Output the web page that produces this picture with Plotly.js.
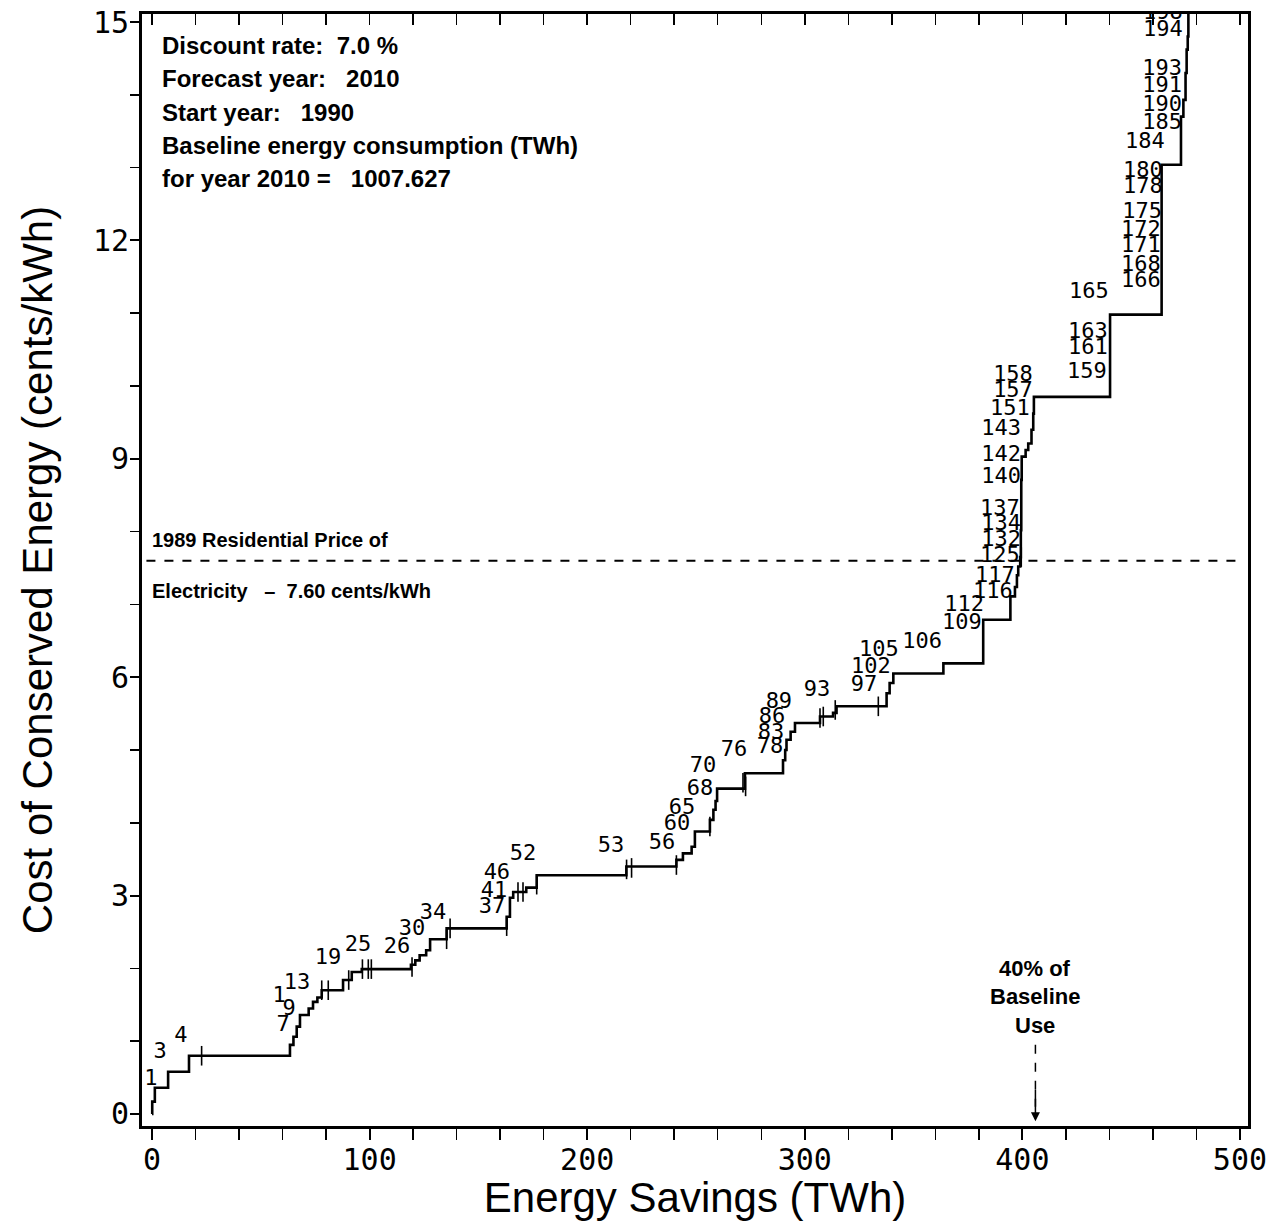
<!DOCTYPE html>
<html>
<head>
<meta charset="utf-8">
<script src="https://cdn.plot.ly/plotly-3.0.1.min.js"></script>
<style>html,body{margin:0;padding:0;background:#fff;}#chart{width:1281px;height:1221px;}</style>
</head>
<body>
<div id="chart"></div>
<script>
// Conservation supply curve: cumulative savings (TWh) at the start of each step, and its cost (cents/kWh)
const savingsStart = [0, 0.1, 1.3, 7.4, 17, 63.4, 65, 66.5, 68, 72, 74, 76, 78, 87.8, 91.8, 96.4, 119, 121, 123, 126, 127.8,
  135.4, 163, 164.5, 166, 172, 176.8, 218, 241, 244, 248, 249.5, 256.4, 258, 259, 259.7, 272.5, 290, 291, 291.6, 293.5,
  295.5, 307, 313, 314.6, 337.6, 339, 340.7, 363.7, 382, 394.5, 396.6, 397.5, 398.1, 399, 399.3, 399.5, 399.7, 401.5,
  402.7, 404.2, 405, 405.3, 440.3, 464, 472.9, 474, 475, 475.5, 476, 476.3];
const cost = [0.00, 0.17, 0.36, 0.58, 0.80, 0.95, 1.06, 1.20, 1.36, 1.45, 1.54, 1.60, 1.70, 1.84, 1.95, 1.99, 2.05, 2.11, 2.18, 2.25, 2.40,
  2.55, 2.71, 2.97, 3.05, 3.11, 3.28, 3.40, 3.49, 3.58, 3.67, 3.88, 4.04, 4.18, 4.30, 4.47, 4.68, 4.86, 5.00, 5.14, 5.25,
  5.37, 5.46, 5.51, 5.60, 5.78, 5.92, 6.05, 6.19, 6.79, 7.11, 7.24, 7.40, 7.52, 7.65, 8.02, 8.71, 9.03, 9.12,
  9.21, 9.40, 9.62, 9.85, 10.98, 13.04, 13.70, 13.93, 14.30, 14.62, 14.80, 15.30];

// Short boundary marks between measures with nearly equal cost
const markSavings = [22.8, 78, 81, 90.4, 96.7, 99.4, 100.8, 119.5, 135.4, 137, 163, 168.2, 170.5, 176.8, 218.1, 220.4, 241,
  256.4, 271.6, 272.8, 307, 308.5, 314, 333.8, 399.5];
const markCost = [0.80, 1.70, 1.70, 1.84, 1.99, 1.99, 1.99, 2.02, 2.40, 2.55, 2.58, 3.05, 3.05, 3.15, 3.36, 3.38, 3.42,
  3.95, 4.55, 4.50, 5.44, 5.46, 5.55, 5.60, 7.65];

// Measure number labels
const measureIds = ["1","3","4","7","9","1","13","19","25","26","30","34","37","41","46","52","53","56","60","65","68","70",
  "76","78","83","86","89","93","97","102","105","106","109","112","116","117","125","132","134","137","140","142","143",
  "151","157","158","159","161","163","165","166","168","171","172","175","178","180","184","185","190","191","193","194","198"];
const labelSavings = [-0.5, 3.7, 13.3, 60.2, 63.0, 58.4, 66.6, 80.9, 94.7, 112.6, 119.5, 129.1, 156.3, 157.2, 158.5, 170.5,
  210.9, 234.4, 241.3, 243.6, 251.8, 253.2, 267.5, 284.0, 284.5, 284.9, 288.1, 305.6, 327.2, 330.4, 334.1, 353.9, 372.2,
  373.2, 386.5, 387.4, 389.7, 390.2, 390.2, 389.7, 390.2, 390.2, 390.2, 394.3, 395.7, 395.7, 429.7, 430.1, 430.1, 430.6,
  454.5, 454.5, 454.5, 454.5, 455.0, 455.4, 455.4, 456.3, 464.2, 464.2, 464.2, 464.2, 464.6, 464.6];
const labelCost = [0.47, 0.85, 1.07, 1.21, 1.43, 1.61, 1.79, 2.14, 2.31, 2.29, 2.54, 2.76, 2.84, 3.06, 3.30, 3.57, 3.67, 3.72,
  3.98, 4.20, 4.46, 4.77, 4.99, 5.04, 5.23, 5.44, 5.65, 5.82, 5.89, 6.13, 6.36, 6.48, 6.74, 6.98, 7.17, 7.38, 7.66, 7.88,
  8.10, 8.31, 8.75, 9.05, 9.40, 9.68, 9.92, 10.14, 10.19, 10.51, 10.73, 11.29, 11.43, 11.66, 11.92, 12.14, 12.38, 12.72,
  12.94, 13.34, 13.60, 13.85, 14.11, 14.35, 14.89, 15.12];

const infoLines = ["Discount rate:  7.0 %", "Forecast year:   2010", "Start year:   1990",
  "Baseline energy consumption (TWh)", "for year 2010 =   1007.627"];
const residentialPrice = 7.60;
const priceLines = ["1989 Residential Price of", "Electricity   \u2013  7.60 cents/kWh"];
const fortyPctSavings = 406;
const fortyPctLines = ["40% of", "Baseline", "Use"];

const xTicks = [0, 100, 200, 300, 400, 500];
const yTicks = [0, 3, 6, 9, 12, 15];

const traces = [
  {
    x: savingsStart, y: cost, type: "scatter", mode: "lines",
    line: {shape: "hv", color: "#000", width: 2.6}, hoverinfo: "skip", showlegend: false
  },
  {
    x: markSavings, y: markCost, type: "scatter", mode: "markers",
    marker: {symbol: "line-ns", size: 14, color: "#000", line: {color: "#000", width: 1.6}},
    hoverinfo: "skip", showlegend: false
  },
  {
    x: labelSavings, y: labelCost, type: "scatter", mode: "text", text: measureIds,
    textposition: "middle center", cliponaxis: true,
    textfont: {family: "DejaVu Sans Mono", size: 22, color: "#000"}, hoverinfo: "skip", showlegend: false
  },
  { x: [], y: [], xaxis: "x2", type: "scatter", mode: "markers", showlegend: false, hoverinfo: "skip" }
];

const infoY = [0.972, 0.9424, 0.9118, 0.882, 0.8524];
const annotations = [];
infoLines.forEach((t, i) => annotations.push({
  xref: "paper", yref: "paper", x: 0.0163, y: infoY[i], xanchor: "left", yanchor: "middle",
  text: t, showarrow: false, font: {family: "Liberation Sans", size: 24, color: "#000", weight: "bold"}
}));
const priceY = [0.5266, 0.4815];
priceLines.forEach((t, i) => annotations.push({
  xref: "paper", yref: "paper", x: 0.0072, y: priceY[i], xanchor: "left", yanchor: "middle",
  text: t, showarrow: false, font: {family: "Liberation Sans", size: 20, color: "#000", weight: "bold"}
}));
const fortyY = [2.0, 1.61, 1.21];
fortyPctLines.forEach((t, i) => annotations.push({
  xref: "x", yref: "y", x: fortyPctSavings, y: fortyY[i], xanchor: "center", yanchor: "middle",
  text: t, showarrow: false, font: {family: "Liberation Sans", size: 22, color: "#000", weight: "bold"}
}));
annotations.push({
  xref: "x", yref: "y", x: fortyPctSavings, y: -0.1, axref: "x", ayref: "y",
  ax: fortyPctSavings, ay: 0.35, text: "", showarrow: true, arrowhead: 2, arrowsize: 1.2,
  arrowwidth: 1.5, arrowcolor: "#000"
});

const layout = {
  width: 1281, height: 1221,
  margin: {l: 142, r: 33, t: 14, b: 95},
  paper_bgcolor: "#fff", plot_bgcolor: "#fff",
  showlegend: false,
  xaxis: {
    range: [-4.6, 503.7], tickvals: xTicks, ticks: "outside", ticklen: 11, tickwidth: 2, tickcolor: "#000",
    minor: {dtick: 20, tick0: 0, ticks: "outside", ticklen: 11, tickwidth: 1.5, tickcolor: "#000", showgrid: false},
    showline: true, linewidth: 3, linecolor: "#000", mirror: true, showgrid: false, zeroline: false,
    tickfont: {family: "DejaVu Sans Mono", size: 30, color: "#000"}, ticklabelstandoff: -6,
    title: {text: "Energy Savings (TWh)", font: {family: "Liberation Sans", size: 42, color: "#000"}, standoff: 2}
  },
  xaxis2: {
    overlaying: "x", side: "top", anchor: "y", range: [-4.6, 503.7], dtick: 20, tick0: 0,
    ticks: "inside", ticklen: 11, tickwidth: 1.5, tickcolor: "#000",
    showticklabels: false, showline: false, showgrid: false, zeroline: false
  },
  yaxis: {
    range: [-0.165, 15.11], tickvals: yTicks, ticks: "outside", ticklen: 9, tickwidth: 2, tickcolor: "#000",
    minor: {dtick: 1, tick0: 0, ticks: "outside", ticklen: 9, tickwidth: 1.5, tickcolor: "#000", showgrid: false},
    showline: true, linewidth: 3, linecolor: "#000", mirror: true, showgrid: false, zeroline: false,
    tickfont: {family: "DejaVu Sans Mono", size: 30, color: "#000"}, ticklabelstandoff: -5,
    title: {text: "Cost of Conserved Energy (cents/kWh)", font: {family: "Liberation Sans", size: 42, color: "#000"}, standoff: 28}
  },
  shapes: [
    {type: "line", xref: "paper", yref: "y", x0: 0.004, x1: 0.99, y0: residentialPrice, y1: residentialPrice,
     line: {color: "#000", width: 2, dash: "dash"}},
    {type: "line", xref: "x", yref: "y", x0: fortyPctSavings, x1: fortyPctSavings, y0: 0.95, y1: 0.1,
     line: {color: "#000", width: 1.5, dash: "dash"}}
  ],
  annotations: annotations
};

Plotly.newPlot("chart", traces, layout, {staticPlot: true, displayModeBar: false});
</script>
</body>
</html>
